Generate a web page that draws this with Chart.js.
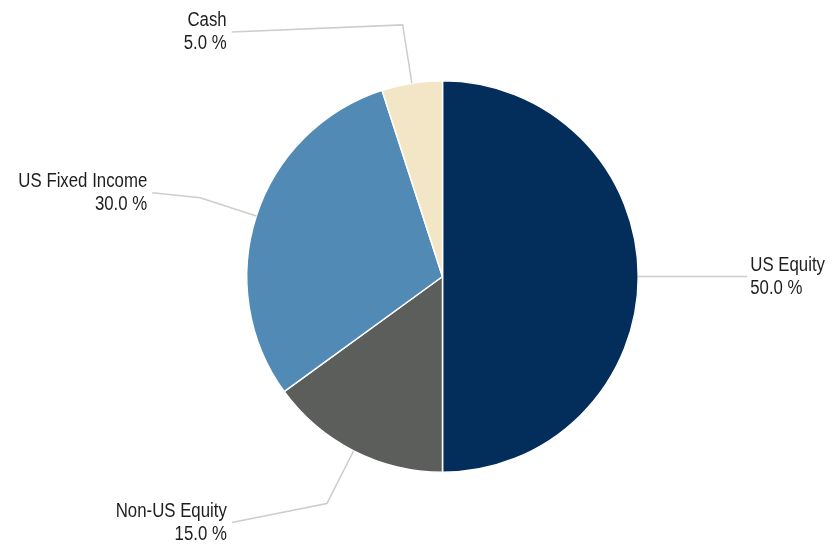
<!DOCTYPE html>
<html>
<head>
<meta charset="utf-8">
<script src="https://cdn.jsdelivr.net/npm/chart.js@4"></script>
<style>
  html, body { margin: 0; padding: 0; background: #fff; }
  #wrap { width: 839px; height: 546px; }
</style>
</head>
<body>
<div id="wrap"><canvas id="allocChart"></canvas></div>
<script>
const categories = ['US Equity', 'Non-US Equity', 'US Fixed Income', 'Cash'];
const weights = [50, 15, 30, 5];
const sliceColors = ['#032d5a', '#5b5e5b', '#528ab6', '#f2e6c6'];
// where each label sits relative to its leader-line elbow (px)
const labelShift = [[50, 0], [-95, 19], [-48, -5], [-171, 7]];

// narrow text: no condensed face installed, so squeeze Liberation Sans
function narrowText(c, txt, x, y, align) {
  c.save();
  c.translate(x, y);
  c.scale(0.84, 1);
  c.textAlign = align;
  c.fillText(txt, 0, 0);
  c.restore();
}

const leaderLabels = {
  id: 'leaderLabels',
  afterDatasetsDraw(chart) {
    const c = chart.ctx;
    const arcs = chart.getDatasetMeta(0).data;
    c.save();
    c.font = '20px "Liberation Sans", Arial, sans-serif';
    c.textBaseline = 'middle';
    arcs.forEach((arc, i) => {
      const p = arc.getProps(['x', 'y', 'startAngle', 'endAngle', 'outerRadius'], true);
      const mid = (p.startAngle + p.endAngle) / 2;
      const r = p.outerRadius;
      const sx = p.x + Math.cos(mid) * r, sy = p.y + Math.sin(mid) * r;
      const ex = p.x + Math.cos(mid) * (r + 59), ey = p.y + Math.sin(mid) * (r + 59);
      const tx = ex + labelShift[i][0], ty = ey + labelShift[i][1];
      c.strokeStyle = '#cdcdcd';
      c.lineWidth = 1.5;
      c.beginPath();
      c.moveTo(sx, sy);
      c.lineTo(ex, ey);
      c.lineTo(tx, ty);
      c.stroke();
      const right = tx > p.x;
      const align = right ? 'left' : 'right';
      const x = right ? tx + 3 : tx - 5;
      c.fillStyle = '#1e1e1e';
      narrowText(c, categories[i], x, ty - 11, align);
      narrowText(c, weights[i].toFixed(1) + ' %', x, ty + 12, align);
    });
    c.restore();
  }
};

new Chart(document.getElementById('allocChart'), {
  type: 'pie',
  data: {
    labels: categories,
    datasets: [{
      data: weights,
      backgroundColor: sliceColors,
      borderColor: '#ffffff',
      borderWidth: 1.5
    }]
  },
  options: {
    responsive: true,
    maintainAspectRatio: false,
    animation: false,
    layout: { padding: { top: 80, bottom: 73, left: 46, right: 0 } },
    plugins: {
      legend: { display: false },
      tooltip: { enabled: false }
    }
  },
  plugins: [leaderLabels]
});
</script>
</body>
</html>
